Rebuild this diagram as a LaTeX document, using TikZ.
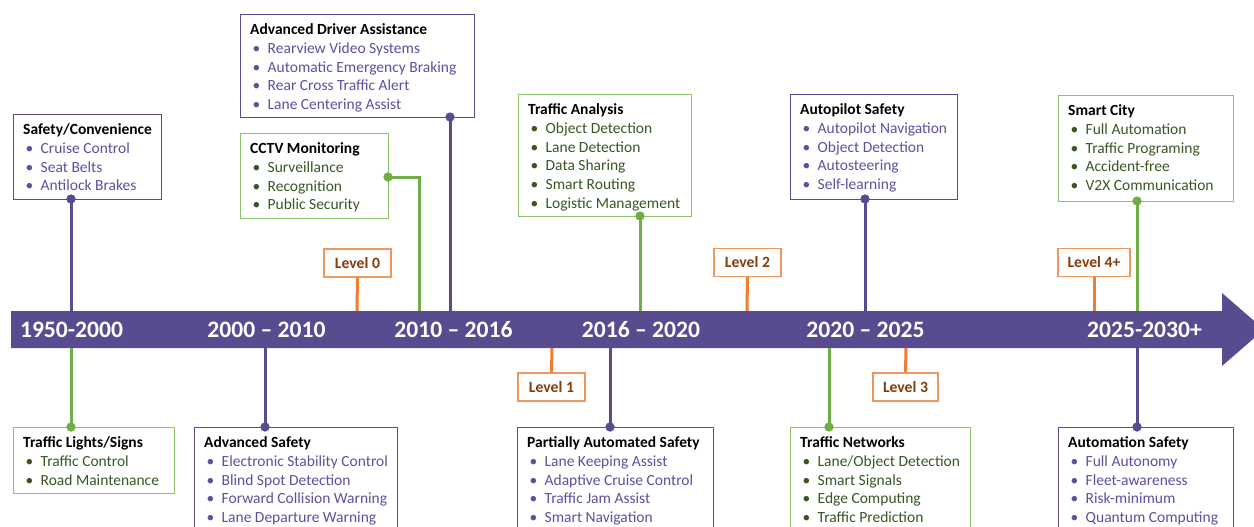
\documentclass[tikz,border=0pt]{standalone}
\usepackage{fontspec}
\setmainfont{Carlito}
\usetikzlibrary{calc}
\definecolor{band}{RGB}{89,75,143}
\definecolor{ptext}{RGB}{93,80,160}
\definecolor{gline}{RGB}{112,173,71}
\definecolor{gbord}{RGB}{140,196,105}
\definecolor{gtext}{RGB}{56,87,35}
\definecolor{oline}{RGB}{237,125,49}
\definecolor{obord}{RGB}{240,150,95}
\definecolor{otext}{RGB}{132,60,12}
\newcommand\tlfont{\fontsize{15.5}{18.7}\selectfont}
\newcommand\ttl[1]{\rule{0pt}{11.5pt}\textbf{#1}}
\newcommand\itm[2]{\\\textcolor{#1}{\makebox[17.5pt][l]{\hspace{2.5pt}•}#2}}
\newcommand\tlbox[7]{%
  \node[draw=#6, line width=1.2pt, inner sep=0, anchor=north west,
        minimum width={(#4-#2)*1pt}, minimum height={(#5-#3)*1pt}] (#1) at (#2,#3) {};
  \node[anchor=north west, inner sep=0, align=left, font=\tlfont] (#1t)
        at ($(#1.north west)+(10,9)$) {#7};}
\tikzset{
  pl/.style={line width=3pt, draw=band},
  gl/.style={line width=3pt, draw=gline},
  ol/.style={line width=3pt, draw=oline},
  pdot/.style={circle, fill=band, inner sep=0, minimum size=9pt},
  gdot/.style={circle, fill=gline, inner sep=0, minimum size=9pt},
  lvl/.style={draw=obord, line width=1.2pt, fill=white, text=otext, font=\fontsize{15.7}{17}\selectfont\bfseries,
              minimum height=28pt, inner sep=0},
  yr/.style={text=white, font=\fontsize{23.6}{25}\selectfont\bfseries, inner sep=0}
}
\begin{document}
\begin{tikzpicture}[x=1pt,y=-1pt]
\useasboundingbox (0,0) rectangle (1254,527);
% band
\fill[band] (11,311) -- (1222,311) -- (1222,293) -- (1264,329.5) -- (1222,366) -- (1222,348) -- (11,348) -- cycle;
\node[yr] (y1) at (71.5,330) {1950-2000};
\node[yr] (y2) at (266.5,330) {2000 – 2010};
\node[yr] (y3) at (453.5,330) {2010 – 2016};
\node[yr] (y4) at (641,330) {2016 – 2020};
\node[yr] (y5) at (865.5,330) {2020 – 2025};
\node[yr] (y6) at (1144.5,330) {2025-2030+};
% band attachment points
\coordinate (t1) at (71,311); \coordinate (t2) at (450,311); \coordinate (t3) at (419,311);
\coordinate (t4) at (640,311); \coordinate (t5) at (865,311); \coordinate (t6) at (1137,311);
\coordinate (u1) at (71,348); \coordinate (u2) at (265,348); \coordinate (u3) at (610,348);
\coordinate (u4) at (829,348); \coordinate (u5) at (1137,348);
\coordinate (l0) at (357,311); \coordinate (l1) at (552,348); \coordinate (l2) at (747,311);
\coordinate (l3) at (906,348); \coordinate (l4) at (1094,311);
\coordinate (cc) at (419,177);
% boxes top
\tlbox{b1}{13}{114}{161}{199}{band}{\ttl{Safety/Convenience}\itm{ptext}{Cruise Control}\itm{ptext}{Seat Belts}\itm{ptext}{Antilock Brakes}}
\tlbox{b2}{240}{14}{474}{117}{band}{\ttl{Advanced Driver Assistance}\itm{ptext}{Rearview Video Systems}\itm{ptext}{Automatic Emergency Braking}\itm{ptext}{Rear Cross Traffic Alert}\itm{ptext}{Lane Centering Assist}}
\tlbox{b3}{240}{133}{388}{218}{gbord}{\ttl{CCTV Monitoring}\itm{gtext}{Surveillance}\itm{gtext}{Recognition}\itm{gtext}{Public Security}}
\tlbox{b4}{518}{94}{691}{216}{gbord}{\ttl{Traffic Analysis}\itm{gtext}{Object Detection}\itm{gtext}{Lane Detection}\itm{gtext}{Data Sharing}\itm{gtext}{Smart Routing}\itm{gtext}{Logistic Management}}
\tlbox{b5}{790}{94}{957}{199}{band}{\ttl{Autopilot Safety}\itm{ptext}{Autopilot Navigation}\itm{ptext}{Object Detection}\itm{ptext}{Autosteering}\itm{ptext}{Self-learning}}
\tlbox{b6}{1058}{95}{1233}{201}{gbord}{\ttl{Smart City}\itm{gtext}{Full Automation}\itm{gtext}{Traffic Programing}\itm{gtext}{Accident-free}\itm{gtext}{V2X Communication}}
% boxes bottom
\tlbox{b7}{13}{427}{174}{493}{gbord}{\ttl{Traffic Lights/Signs}\itm{gtext}{Traffic Control}\itm{gtext}{Road Maintenance}}
\tlbox{b8}{194}{427}{397}{540}{band}{\ttl{Advanced Safety}\itm{ptext}{Electronic Stability Control}\itm{ptext}{Blind Spot Detection}\itm{ptext}{Forward Collision Warning}\itm{ptext}{Lane Departure Warning}}
\tlbox{b9}{517}{427}{713}{540}{band}{\ttl{Partially Automated Safety}\itm{ptext}{Lane Keeping Assist}\itm{ptext}{Adaptive Cruise Control}\itm{ptext}{Traffic Jam Assist}\itm{ptext}{Smart Navigation}}
\tlbox{b10}{790}{427}{970}{540}{gbord}{\ttl{Traffic Networks}\itm{gtext}{Lane/Object Detection}\itm{gtext}{Smart Signals}\itm{gtext}{Edge Computing}\itm{gtext}{Traffic Prediction}}
\tlbox{b11}{1058}{427}{1233}{540}{band}{\ttl{Automation Safety}\itm{ptext}{Full Autonomy}\itm{ptext}{Fleet-awareness}\itm{ptext}{Risk-minimum}\itm{ptext}{Quantum Computing}}
% dots
\node[pdot] (d1) at (71,199) {};
\node[pdot] (d2) at (450,117) {};
\node[gdot] (d3) at (388,177) {};
\node[gdot] (d4) at (640,216) {};
\node[pdot] (d5) at (865,199) {};
\node[gdot] (d6) at (1137,201) {};
\node[gdot] (d7) at (71,427) {};
\node[pdot] (d8) at (265,427) {};
\node[pdot] (d9) at (610,427) {};
\node[gdot] (d10) at (829,427) {};
\node[pdot] (d11) at (1137,427) {};
% connectors
\draw[pl] (d1.center) -- (t1);
\draw[pl] (d2.center) -- (t2);
\draw[gl] (d3.center) -- (cc) -- (t3);
\draw[gl] (d4.center) -- (t4);
\draw[pl] (d5.center) -- (t5);
\draw[gl] (d6.center) -- (t6);
\draw[gl] (d7.center) -- (u1);
\draw[pl] (d8.center) -- (u2);
\draw[pl] (d9.center) -- (u3);
\draw[gl] (d10.center) -- (u4);
\draw[pl] (d11.center) -- (u5);
% levels
\node[lvl, minimum width=67pt] (v0) at (357.5,263) {Level 0};
\node[lvl, minimum width=67pt] (v1) at (551.5,387) {Level 1};
\node[lvl, minimum width=67pt] (v2) at (747.5,262.5) {Level 2};
\node[lvl, minimum width=65pt] (v3) at (905.5,387) {Level 3};
\node[lvl, minimum width=72pt] (v4) at (1094,262.5) {Level 4+};
\draw[ol] (v0.south) -- (l0);
\draw[ol] (v1.north) -- (l1);
\draw[ol] (v2.south) -- (l2);
\draw[ol] (v3.north) -- (l3);
\draw[ol] (v4.south) -- (l4);
% redraw dots on top
\foreach \d/\s in {d1/pdot,d2/pdot,d3/gdot,d4/gdot,d5/pdot,d6/gdot,d7/gdot,d8/pdot,d9/pdot,d10/gdot,d11/pdot}{\node[\s] at (\d) {};}
\end{tikzpicture}
\end{document}
